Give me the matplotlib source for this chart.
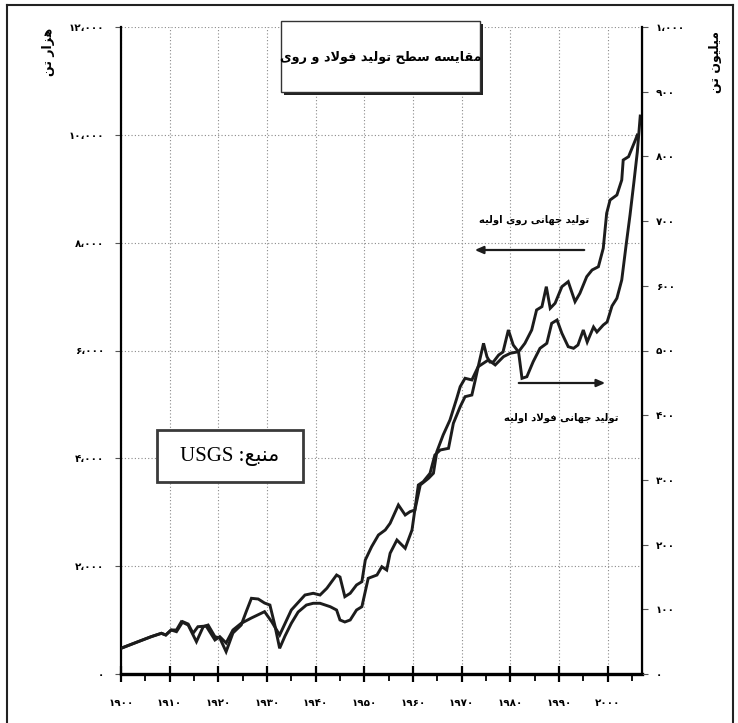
import matplotlib
matplotlib.use("Agg")
import matplotlib.pyplot as plt
from matplotlib.patches import Rectangle
from matplotlib.lines import Line2D

# world primary zinc production (thousand tonnes)
years_zinc = [1900.0, 1903.5, 1906.2, 1908.3, 1909.2, 1910.3, 1911.4, 1912.7, 1913.8, 1914.8,
              1915.8, 1917.5, 1919.3, 1920.3, 1921.6, 1923.0, 1924.7, 1926.8, 1929.5, 1931.0,
              1932.6, 1935.0, 1937.8, 1939.5, 1940.9, 1942.3, 1944.3, 1945.0, 1946.0, 1947.1,
              1948.4, 1949.5, 1950.2, 1951.5, 1952.9, 1954.3, 1955.3, 1957.0, 1958.4, 1959.4,
              1960.4, 1961.5, 1963.2, 1964.2, 1964.9, 1966.2, 1967.6, 1969.0, 1969.7, 1970.7,
              1972.1, 1973.4, 1975.5, 1976.9, 1978.6, 1980.0, 1981.7, 1983.0, 1984.4, 1985.4,
              1986.5, 1987.4, 1988.2, 1989.2, 1990.6, 1991.9, 1993.3, 1994.3, 1995.7, 1996.8,
              1998.1, 1999.1, 1999.8, 2000.5, 2001.9, 2002.9, 2003.2, 2004.3, 2005.7, 2006.1]
zinc_kt = [477, 599, 692, 755, 723, 816, 785, 970, 927, 755,
           877, 890, 631, 692, 575, 816, 940, 1039, 1156, 965,
           723, 1187, 1465, 1497, 1465, 1590, 1836, 1799, 1434, 1497,
           1651, 1712, 2114, 2361, 2578, 2671, 2795, 3135, 2949, 3011,
           3042, 3506, 3630, 3723, 4123, 4433, 4711, 5114, 5329, 5485,
           5454, 5700, 5825, 5732, 5886, 5949, 5978, 6134, 6381, 6752,
           6813, 7184, 6783, 6876, 7184, 7277, 6906, 7061, 7369, 7493,
           7554, 7896, 8545, 8791, 8884, 9162, 9533, 9595, 9904, 9997]

# world primary steel production (million tonnes)
years_steel = [1900.0, 1903.5, 1906.2, 1908.3, 1909.2, 1910.3, 1911.4, 1912.4, 1913.8, 1915.5,
               1916.9, 1917.9, 1919.3, 1920.3, 1921.6, 1923.0, 1924.7, 1925.7, 1926.8, 1928.2,
               1929.5, 1930.6, 1931.6, 1932.6, 1933.7, 1935.0, 1936.4, 1938.1, 1939.5, 1940.9,
               1943.0, 1944.3, 1945.0, 1946.0, 1947.1, 1948.4, 1949.5, 1950.8, 1952.6, 1953.6,
               1954.6, 1955.3, 1956.7, 1958.4, 1959.8, 1961.1, 1962.1, 1963.5, 1964.5, 1965.6,
               1967.3, 1968.3, 1969.7, 1970.7, 1972.1, 1972.8, 1973.4, 1974.5, 1975.2, 1975.8,
               1976.5, 1977.6, 1978.5, 1979.6, 1980.6, 1981.7, 1982.4, 1983.4, 1984.7, 1986.1,
               1987.5, 1988.5, 1989.6, 1990.6, 1991.9, 1993.0, 1993.9, 1995.0, 1995.8, 1997.1,
               1997.8, 1999.1, 1999.9, 2000.9, 2001.9, 2002.9, 2003.8, 2004.6, 2005.4, 2006.1,
               2006.7]
steel_mt = [39.7, 49.9, 57.7, 62.9, 60.3, 68.0, 68.0, 80.8, 75.7, 49.9,
            73.1, 75.7, 57.7, 55.6, 34.5, 63.4, 75.7, 95.8, 117.0, 115.9,
            109.7, 106.6, 75.7, 39.7, 58.7, 78.4, 95.8, 106.6, 109.3, 109.3,
            104.0, 98.9, 83.5, 80.4, 83.5, 98.9, 104.0, 147.9, 153.0, 165.8,
            160.7, 186.6, 207.1, 194.3, 222.6, 292.1, 297.2, 310.2, 338.5, 346.2,
            348.8, 387.5, 413.1, 428.6, 431.2, 454.4, 475.0, 511.1, 490.4, 482.2,
            482.2, 493.0, 497.7, 531.7, 508.5, 497.7, 457.0, 459.5, 482.7, 503.4,
            511.1, 542.0, 547.1, 526.6, 505.9, 503.4, 508.5, 531.7, 513.1, 536.3,
            528.6, 539.4, 544.1, 568.8, 580.7, 609.0, 663.1, 709.4, 760.4, 806.8,
            862.4]

left_ticks = [0, 2000, 4000, 6000, 8000, 10000, 12000]
right_ticks = [0, 100, 200, 300, 400, 500, 600, 700, 800, 900, 1000]
year_ticks = [1900, 1910, 1920, 1930, 1940, 1950, 1960, 1970, 1980, 1990, 2000]
minor_years = [1905, 1915, 1925, 1935, 1945, 1955, 1965, 1975, 1985, 1995, 2005]

title = "مقایسه سطح تولید فولاد و روی"
zinc_label = "تولید جهانی روی اولیه"
steel_label = "تولید جهانی فولاد اولیه"
source_word = "منبع"
left_unit = "هزار تن"
right_unit = "میلیون تن"

plt.rcParams["font.family"] = ["DejaVu Sans"]

# Arabic presentation forms: isolated, final, initial, medial
FORMS = {
    "ا": ("\uFE8D", "\uFE8E", None, None),
    "ب": ("\uFE8F", "\uFE90", "\uFE91", "\uFE92"),
    "ت": ("\uFE95", "\uFE96", "\uFE97", "\uFE98"),
    "ج": ("\uFE9D", "\uFE9E", "\uFE9F", "\uFEA0"),
    "ح": ("\uFEA1", "\uFEA2", "\uFEA3", "\uFEA4"),
    "د": ("\uFEA9", "\uFEAA", None, None),
    "ر": ("\uFEAD", "\uFEAE", None, None),
    "ز": ("\uFEAF", "\uFEB0", None, None),
    "س": ("\uFEB1", "\uFEB2", "\uFEB3", "\uFEB4"),
    "ط": ("\uFEC1", "\uFEC2", "\uFEC3", "\uFEC4"),
    "ع": ("\uFEC9", "\uFECA", "\uFECB", "\uFECC"),
    "ف": ("\uFED1", "\uFED2", "\uFED3", "\uFED4"),
    "ق": ("\uFED5", "\uFED6", "\uFED7", "\uFED8"),
    "ل": ("\uFEDD", "\uFEDE", "\uFEDF", "\uFEE0"),
    "م": ("\uFEE1", "\uFEE2", "\uFEE3", "\uFEE4"),
    "ن": ("\uFEE5", "\uFEE6", "\uFEE7", "\uFEE8"),
    "ه": ("\uFEE9", "\uFEEA", "\uFEEB", "\uFEEC"),
    "و": ("\uFEED", "\uFEEE", None, None),
    "ی": ("\uFBFC", "\uFBFD", "\uFBFE", "\uFBFF"),
}


def joins_next(c):
    return c in FORMS and FORMS[c][2] is not None


def fa(text):
    # crude shaping + right-to-left ordering, matplotlib does neither
    out = []
    i = 0
    n = len(text)
    while i < n:
        c = text[i]
        if c not in FORMS:
            out.append(c)
            i += 1
            continue
        prev_ok = i > 0 and joins_next(text[i - 1])
        nxt = text[i + 1] if i + 1 < n else ""
        if c == "ل" and nxt == "ا":
            out.append("\uFEFC" if prev_ok else "\uFEFB")
            i += 2
            continue
        nxt_ok = nxt in FORMS and joins_next(c)
        iso, fin, ini, med = FORMS[c]
        if prev_ok and nxt_ok:
            out.append(med)
        elif prev_ok:
            out.append(fin)
        elif nxt_ok:
            out.append(ini)
        else:
            out.append(iso)
        i += 1
    return "".join(reversed(out))


FA_DIGITS = str.maketrans("0123456789,", "۰۱۲۳۴۵۶۷۸۹،")


def fa_num(v):
    return f"{v:,}".translate(FA_DIGITS)


W, H = 738, 723


def fx(px):
    return px / W


def fy(py):
    return 1 - py / H


fig = plt.figure(figsize=(W / 100, H / 100), dpi=100)
ax = fig.add_axes([fx(121), fy(674), fx(641.7) - fx(121), fy(27) - fy(674)])
ax2 = ax.twinx()

line_col = "#1c1c1c"
ax.plot(years_zinc, zinc_kt, color=line_col, lw=2.1, solid_joinstyle="miter")
ax2.plot(years_steel, steel_mt, color=line_col, lw=2.1, solid_joinstyle="miter")

ax.set_xlim(1900, 2007)
ax.set_ylim(0, 12000)
ax2.set_ylim(0, 1000)

ax.set_yticks(left_ticks, [fa_num(v) for v in left_ticks])
ax2.set_yticks(right_ticks, [fa_num(v) for v in right_ticks])
ax.set_xticks(year_ticks, [str(y).translate(FA_DIGITS) for y in year_ticks])
ax.set_xticks(minor_years, minor=True)

ax.tick_params(axis="y", direction="out", length=4, width=0.8, labelsize=7.5, pad=8, color="#555")
ax2.tick_params(axis="y", direction="out", length=4, width=0.8, labelsize=7.5, pad=6, color="#555")
ax.tick_params(axis="x", which="major", direction="inout", length=11, width=1.6, labelsize=7.5, pad=12)
ax.tick_params(axis="x", which="minor", direction="out", length=5, width=1.3)
for lab in ax.get_yticklabels() + ax2.get_yticklabels() + ax.get_xticklabels():
    lab.set_fontweight("bold")

ax.grid(True, which="major", linestyle=(0, (1, 2)), color="#8a8a8a", lw=0.8)
ax.set_axisbelow(True)

for a in (ax, ax2):
    a.spines["top"].set_visible(False)
ax.spines["bottom"].set_linewidth(2.4)
ax.spines["left"].set_linewidth(1.6)
ax2.spines["right"].set_linewidth(1.6)
ax2.spines["left"].set_visible(False)
ax2.spines["bottom"].set_visible(False)

# unit labels
fig.text(fx(48), fy(52), fa(left_unit), rotation=90, fontsize=9, fontweight="bold",
         ha="center", va="center")
fig.text(fx(716), fy(62), fa(right_unit), rotation=90, fontsize=9, fontweight="bold",
         ha="center", va="center")

# title box with shadow
fig.patches.append(Rectangle((fx(284), fy(95)), fx(483) - fx(284), fy(24) - fy(95),
                             transform=fig.transFigure, facecolor="#222", edgecolor="none", zorder=5))
fig.patches.append(Rectangle((fx(281), fy(92)), fx(480) - fx(281), fy(21) - fy(92),
                             transform=fig.transFigure, facecolor="white", edgecolor="#333",
                             lw=1.0, zorder=6))
fig.text(fx(381), fy(58), fa(title), fontsize=9.2, fontweight="bold",
         ha="center", va="center", zorder=7)

# series labels with arrows
fig.text(fx(534), fy(220), fa(zinc_label), fontsize=7.2, fontweight="bold", ha="center", va="center")
ax.annotate("", xy=(fx(472), fy(250)), xytext=(fx(587), fy(250)),
            xycoords="figure fraction", textcoords="figure fraction",
            arrowprops=dict(arrowstyle="-|>,head_length=0.5,head_width=0.22", lw=1.6, color=line_col))
fig.text(fx(561), fy(418), fa(steel_label), fontsize=7.2, fontweight="bold", ha="center", va="center")
ax.annotate("", xy=(fx(608), fy(383)), xytext=(fx(516), fy(383)),
            xycoords="figure fraction", textcoords="figure fraction",
            arrowprops=dict(arrowstyle="-|>,head_length=0.5,head_width=0.22", lw=1.6, color=line_col))

# source box
fig.patches.append(Rectangle((fx(157), fy(482)), fx(303) - fx(157), fy(430) - fy(482),
                             transform=fig.transFigure, facecolor="white", edgecolor="#3a3a3a",
                             lw=2.0, zorder=6))
fig.text(fx(230), fy(456), "USGS :" + fa(source_word), fontsize=15,
         family=["Liberation Serif", "DejaVu Sans"], ha="center", va="center", zorder=7)

# outer page frame
fig.lines.append(Line2D([fx(7), fx(7)], [0, fy(5)], transform=fig.transFigure, color="#222", lw=1.5))
fig.lines.append(Line2D([fx(7), fx(733)], [fy(5), fy(5)], transform=fig.transFigure, color="#222", lw=1.5))
fig.lines.append(Line2D([fx(733), fx(733)], [0, fy(5)], transform=fig.transFigure, color="#222", lw=1.5))

fig.savefig("out.png", dpi=100)
